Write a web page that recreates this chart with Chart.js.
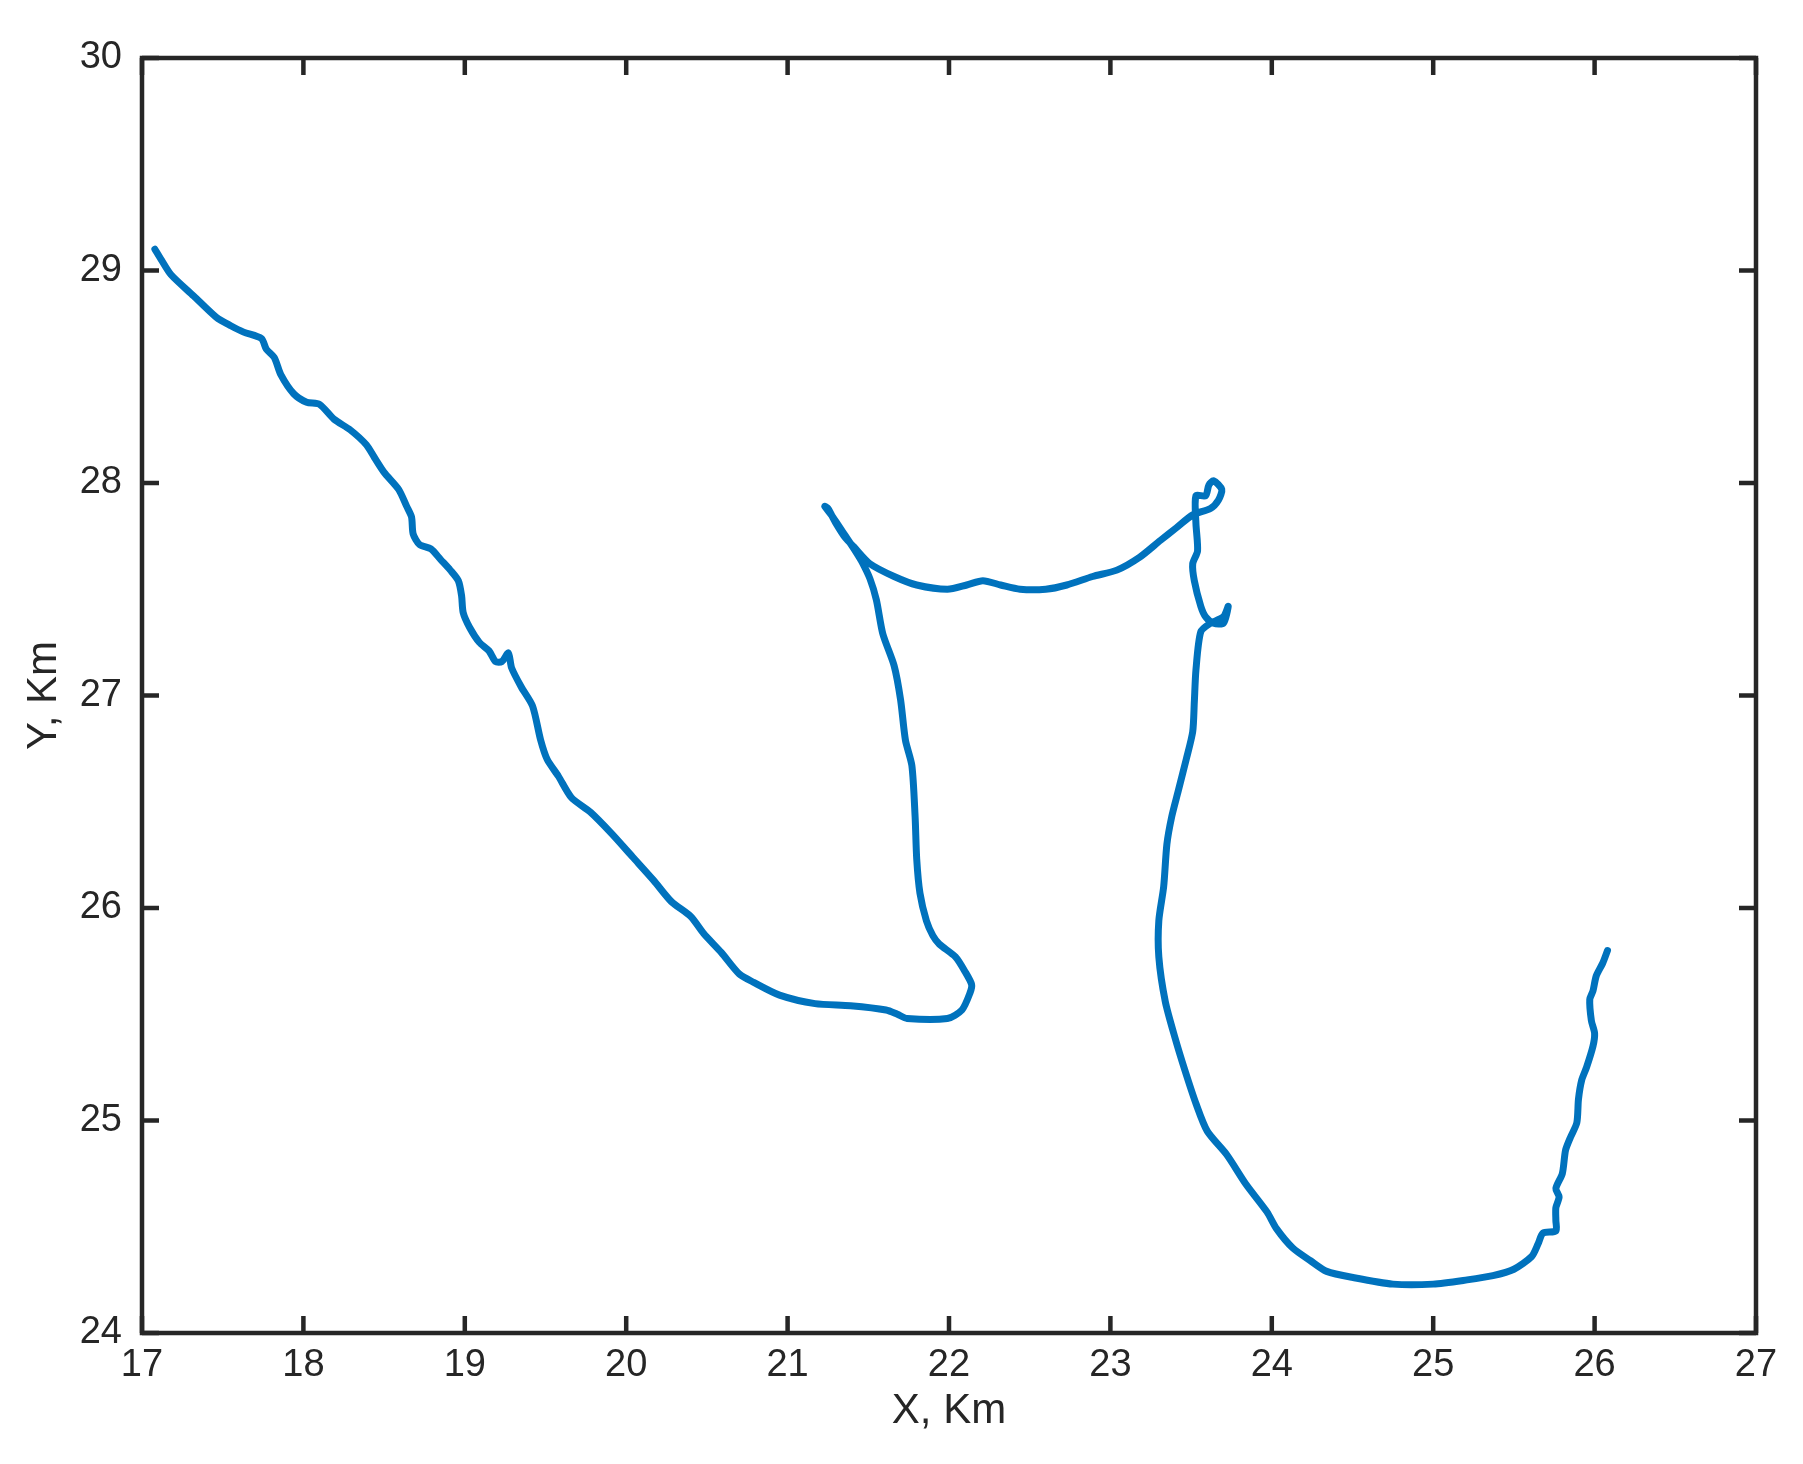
<!DOCTYPE html>
<html>
<head>
<meta charset="utf-8">
<script src="https://cdn.jsdelivr.net/npm/chart.js@4/dist/chart.umd.min.js"></script>
<style>
  html, body { margin: 0; padding: 0; background: #ffffff; }
  #wrap { width: 1803px; height: 1464px; }
</style>
</head>
<body>
<div id="wrap"><canvas id="c" width="1803" height="1464"></canvas></div>
<script>
// ---- Data ----
const xTitle = "X, Km";
const yTitle = "Y, Km";
const xTicks = [17, 18, 19, 20, 21, 22, 23, 24, 25, 26, 27];
const yTicks = [24, 25, 26, 27, 28, 29, 30];

const trackX = [
  17.08,17.12,17.18,17.32,17.46,17.55,17.63,17.74,17.77,17.82,17.86,17.94,18.02,18.10,18.19,18.29,18.39,18.44,18.50,18.59,
  18.64,18.67,18.68,18.72,18.79,18.85,18.91,18.96,18.98,18.99,19.03,19.09,19.15,19.19,19.23,19.27,19.29,19.35,19.42,19.47,
  19.51,19.58,19.66,19.78,19.91,20.04,20.17,20.28,20.40,20.48,20.59,20.70,20.79,20.95,21.17,21.39,21.61,21.68,21.74,21.99,
  22.08,22.13,22.14,22.10,22.04,21.94,21.90,21.86,21.82,21.80,21.79,21.77,21.73,21.70,21.66,21.59,21.55,
  21.51,21.46,21.42,21.35,21.28,21.23,21.25,21.30,21.36,21.41,21.51,21.66,21.80,21.99,22.11,22.21,22.32,22.44,22.60,22.73,
  22.89,23.04,23.18,23.31,23.41,23.51,23.62,23.67,23.69,23.64,23.61,23.59,23.53,23.53,23.54,23.51,23.52,23.56,23.59,23.64,
  23.70,23.73,23.70,23.62,23.56,23.53,23.52,23.51,23.47,23.42,23.38,23.35,23.33,23.30,23.30,23.34,23.40,23.46,23.53,23.60,
  23.72,23.84,23.97,24.03,24.13,24.24,24.34,24.51,24.75,25.00,25.21,25.37,25.50,25.61,25.65,25.68,25.76,25.76,25.76,25.78,
  25.76,25.80,25.82,25.85,25.89,25.90,25.92,25.95,25.99,26.00,25.98,25.97,25.99,26.01,26.05,26.08
];
const trackY = [
  29.10,29.05,28.98,28.88,28.78,28.74,28.71,28.68,28.63,28.59,28.51,28.42,28.38,28.37,28.30,28.25,28.18,28.12,28.05,27.97,
  27.89,27.84,27.76,27.71,27.69,27.64,27.59,27.54,27.47,27.39,27.32,27.25,27.21,27.16,27.16,27.20,27.13,27.04,26.95,26.79,
  26.70,26.62,26.52,26.45,26.35,26.24,26.13,26.03,25.96,25.88,25.79,25.69,25.65,25.59,25.55,25.54,25.52,25.50,25.48,25.48,
  25.52,25.60,25.64,25.70,25.77,25.83,25.87,25.94,26.07,26.23,26.43,26.67,26.79,26.98,27.14,27.29,27.45,
  27.55,27.63,27.68,27.76,27.84,27.89,27.88,27.81,27.74,27.70,27.62,27.56,27.52,27.50,27.52,27.54,27.52,27.50,27.50,27.52,
  27.56,27.59,27.65,27.73,27.79,27.85,27.88,27.92,27.97,28.01,27.99,27.94,27.94,27.81,27.68,27.62,27.54,27.42,27.37,27.34,
  27.34,27.42,27.37,27.34,27.30,27.12,26.97,26.83,26.70,26.55,26.43,26.30,26.10,25.94,25.77,25.56,25.39,25.24,25.08,24.95,
  24.84,24.70,24.57,24.49,24.40,24.34,24.29,24.26,24.23,24.23,24.25,24.27,24.30,24.36,24.42,24.47,24.48,24.53,24.59,24.64,
  24.68,24.75,24.86,24.92,24.99,25.10,25.19,25.25,25.35,25.41,25.47,25.57,25.61,25.68,25.74,25.80
];

// ---- Styling ----
const AXIS_COLOR = '#262626';
const LINE_COLOR = '#0072BD';
const FONT_FAMILY = '"Liberation Sans", Arial, Helvetica, sans-serif';
const LINE_WIDTH = 7;

const points = trackX.map((x, i) => ({ x: x, y: trackY[i] }));

// Box and inward ticks on all four sides (MATLAB style)
const boxPlugin = {
  id: 'boxTicks',
  afterDatasetsDraw(chart) {
    const { ctx, chartArea: a, scales } = chart;
    const xs = scales.x, ys = scales.y;
    const tl = 17;
    ctx.save();
    ctx.strokeStyle = AXIS_COLOR;
    ctx.lineWidth = 4.5;
    ctx.lineCap = 'butt';
    ctx.beginPath();
    xTicks.forEach(v => {
      const px = xs.getPixelForValue(v);
      ctx.moveTo(px, a.bottom); ctx.lineTo(px, a.bottom - tl);
      ctx.moveTo(px, a.top); ctx.lineTo(px, a.top + tl);
    });
    yTicks.forEach(v => {
      const py = ys.getPixelForValue(v);
      ctx.moveTo(a.left, py); ctx.lineTo(a.left + tl, py);
      ctx.moveTo(a.right, py); ctx.lineTo(a.right - tl, py);
    });
    ctx.stroke();
    ctx.lineJoin = 'miter';
    ctx.strokeRect(a.left, a.top, a.right - a.left, a.bottom - a.top);
    ctx.restore();
  }
};

new Chart(document.getElementById('c'), {
  type: 'line',
  data: {
    datasets: [{
      data: points,
      borderColor: LINE_COLOR,
      backgroundColor: LINE_COLOR,
      borderWidth: LINE_WIDTH,
      pointRadius: 0,
      pointHoverRadius: 0,
      tension: 0.25,
      borderJoinStyle: 'round',
      borderCapStyle: 'round',
      fill: false
    }]
  },
  options: {
    responsive: false,
    animation: false,
    devicePixelRatio: 1,
    elements: {
      line: { borderWidth: LINE_WIDTH, borderJoinStyle: 'round', borderCapStyle: 'round', tension: 0.25 },
      point: { radius: 0 }
    },
    layout: { padding: { left: 0, top: 58, right: 47, bottom: 0 } },
    plugins: {
      legend: { display: false },
      tooltip: { enabled: false }
    },
    scales: {
      x: {
        type: 'linear',
        min: 17, max: 27,
        afterBuildTicks: s => { s.ticks = xTicks.map(v => ({ value: v })); },
        afterFit: s => { s.height = 131; },
        grid: { display: false, drawTicks: false },
        border: { display: false },
        ticks: {
          color: AXIS_COLOR,
          font: { family: FONT_FAMILY, size: 38 },
          padding: 10,
          maxRotation: 0,
          autoSkip: false
        },
        title: {
          display: true,
          text: xTitle,
          color: AXIS_COLOR,
          font: { family: FONT_FAMILY, size: 42 },
          padding: { top: 0, bottom: 27 }
        }
      },
      y: {
        type: 'linear',
        min: 24, max: 30,
        afterBuildTicks: s => { s.ticks = yTicks.map(v => ({ value: v })); },
        afterFit: s => { s.width = 142; },
        grid: { display: false, drawTicks: false },
        border: { display: false },
        ticks: {
          color: AXIS_COLOR,
          font: { family: FONT_FAMILY, size: 38 },
          padding: 20,
          autoSkip: false
        },
        title: {
          display: true,
          text: yTitle,
          color: AXIS_COLOR,
          font: { family: FONT_FAMILY, size: 42 },
          padding: { top: 19, bottom: 0 }
        }
      }
    }
  },
  plugins: [boxPlugin]
});
</script>
</body>
</html>
